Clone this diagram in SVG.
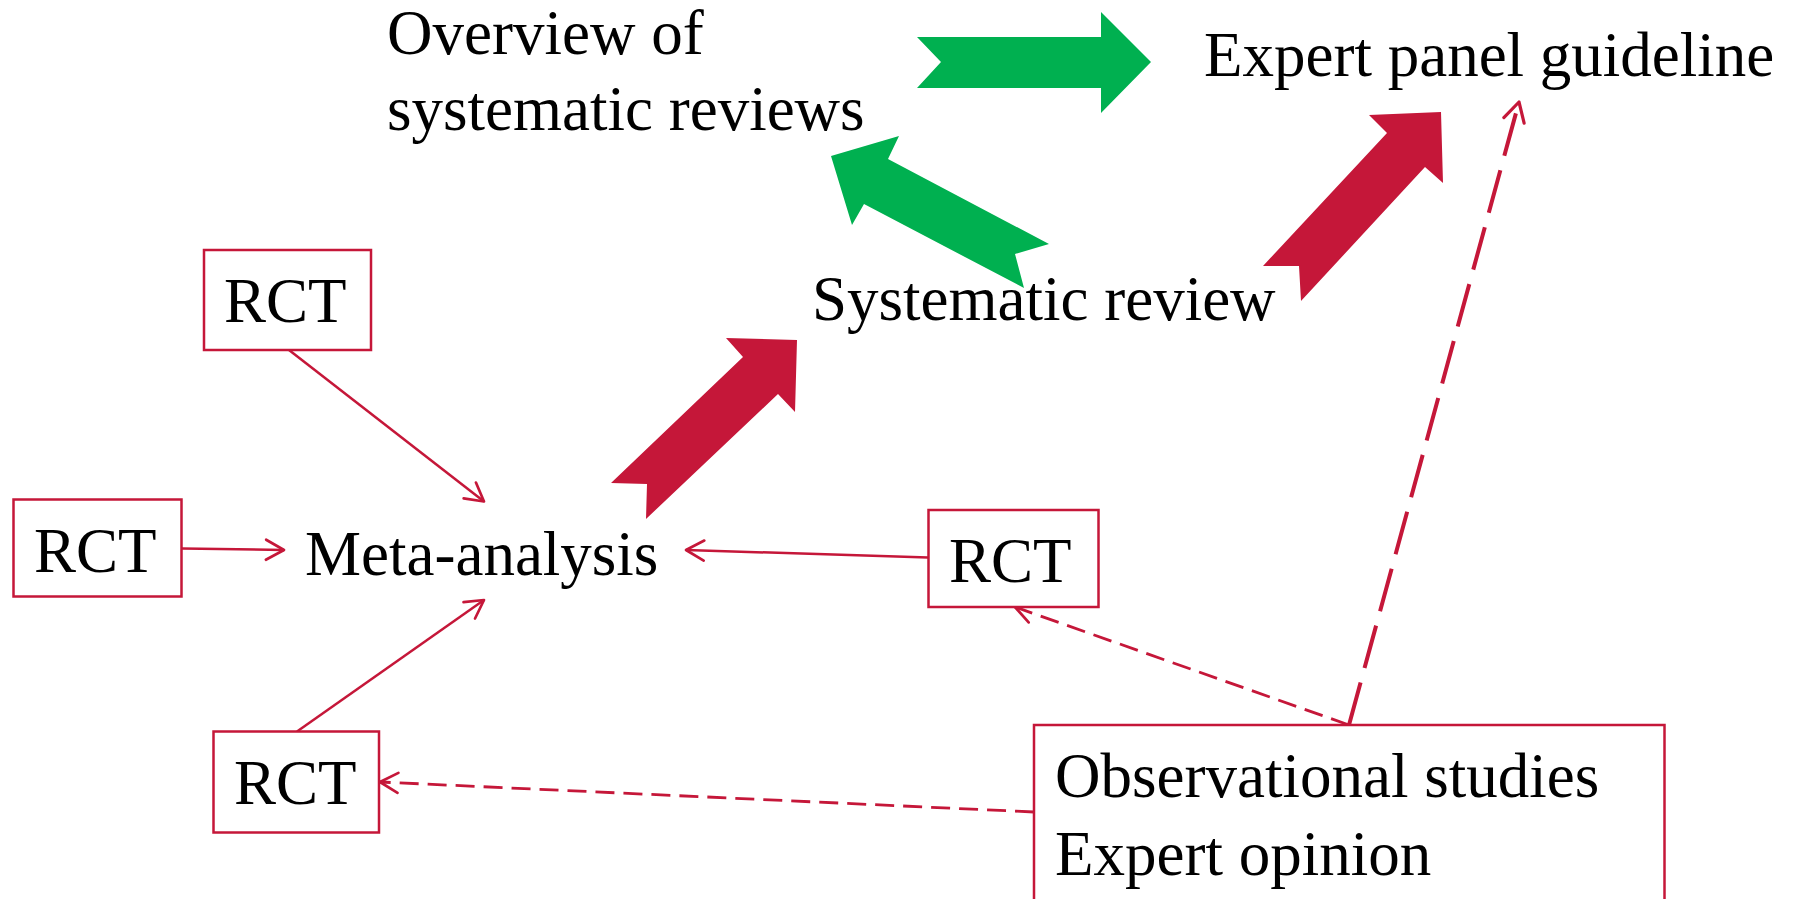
<svg xmlns="http://www.w3.org/2000/svg" width="1800" height="899" viewBox="0 0 1800 899">
  <style>
    .t { font-family: "Liberation Serif", "Times New Roman", serif; font-size: 63px; fill: #000; }
    .box { fill: #fff; stroke: #C51739; stroke-width: 2.5; }
    .ln { fill: none; stroke: #C51739; stroke-width: 2.5; }
    .dsh { fill: none; stroke: #C51739; stroke-width: 2.8; stroke-dasharray: 19 9; }
    .dshl { fill: none; stroke: #C51739; stroke-width: 4; stroke-dasharray: 44 15; }
    .green { fill: #00B050; }
    .red { fill: #C51739; }
  </style>
  <defs>
    <marker id="open" markerUnits="userSpaceOnUse" markerWidth="40" markerHeight="40" viewBox="-25 -20 40 40" refX="0" refY="0" orient="auto" overflow="visible">
      <path d="M-18,-10 L0,0 L-18,10" fill="none" stroke="#C51739" stroke-width="2.7" stroke-dasharray="none" stroke-linejoin="round" stroke-linecap="round"/>
    </marker>
    <marker id="openL" markerUnits="userSpaceOnUse" markerWidth="40" markerHeight="40" viewBox="-25 -20 40 40" refX="0" refY="0" orient="auto" overflow="visible">
      <path d="M-19,-10.5 L0,0 L-19,10.5" fill="none" stroke="#C51739" stroke-width="3.2" stroke-dasharray="none" stroke-linejoin="round" stroke-linecap="round"/>
    </marker>
  </defs>

  <g id="connectors">
    <line class="ln" x1="289" y1="350" x2="484" y2="501.5" marker-end="url(#open)"/>
    <line class="ln" x1="182" y1="548.5" x2="284" y2="550" marker-end="url(#open)"/>
    <line class="ln" x1="297" y1="731.5" x2="484" y2="600" marker-end="url(#open)"/>
    <line class="ln" x1="928" y1="557.5" x2="686" y2="550" marker-end="url(#open)"/>
    <line class="dsh" x1="1349" y1="725" x2="1015" y2="607" marker-end="url(#open)"/>
    <line class="dsh" x1="1034" y1="812" x2="380" y2="782" marker-end="url(#open)"/>
    <line class="dshl" x1="1349" y1="725" x2="1519" y2="102" marker-end="url(#openL)"/>
    <polygon id="arrow-ov-to-guideline" class="green" points="917,37 1101,37 1101,12 1151,62 1101,113 1101,88 917,88 941,62"/>
    <polygon id="arrow-sr-to-ov" class="green" points="831,156 899,136 888,159 1049,244 1015,254 1024,288 864,204 852,225"/>
    <polygon id="arrow-ma-to-sr" class="red" points="797,340 726,338 743,357 611,483 647,484 646,519 778,394 795,412"/>
    <polygon id="arrow-sr-to-guideline" class="red" points="1441,112 1369,115 1387,133 1263,266 1299,266 1301,301 1425,167 1443,183"/>
  </g>

  <g id="overview">
    <text class="t" x="387" y="54">Overview of</text>
    <text class="t" x="387" y="130">systematic reviews</text>
  </g>
  <g id="guideline">
    <text class="t" x="1204" y="76">Expert panel guideline</text>
  </g>
  <g id="systematic-review">
    <text class="t" x="812" y="320">Systematic review</text>
  </g>
  <g id="meta-analysis">
    <text class="t" x="305" y="575">Meta-analysis</text>
  </g>
  <g id="rct-top">
    <rect class="box" x="204" y="250" width="167" height="100"/>
    <text class="t" x="224" y="322">RCT</text>
  </g>
  <g id="rct-left">
    <rect class="box" x="13.5" y="499.5" width="168" height="97"/>
    <text class="t" x="34" y="572">RCT</text>
  </g>
  <g id="rct-bottom">
    <rect class="box" x="213.5" y="731.5" width="165.5" height="101"/>
    <text class="t" x="234" y="804">RCT</text>
  </g>
  <g id="rct-right">
    <rect class="box" x="928.5" y="510" width="170" height="97"/>
    <text class="t" x="949" y="582">RCT</text>
  </g>
  <g id="observational">
    <rect class="box" x="1034" y="725" width="630.5" height="200"/>
    <text class="t" x="1055" y="797">Observational studies</text>
    <text class="t" x="1055" y="875">Expert opinion</text>
  </g>
</svg>
